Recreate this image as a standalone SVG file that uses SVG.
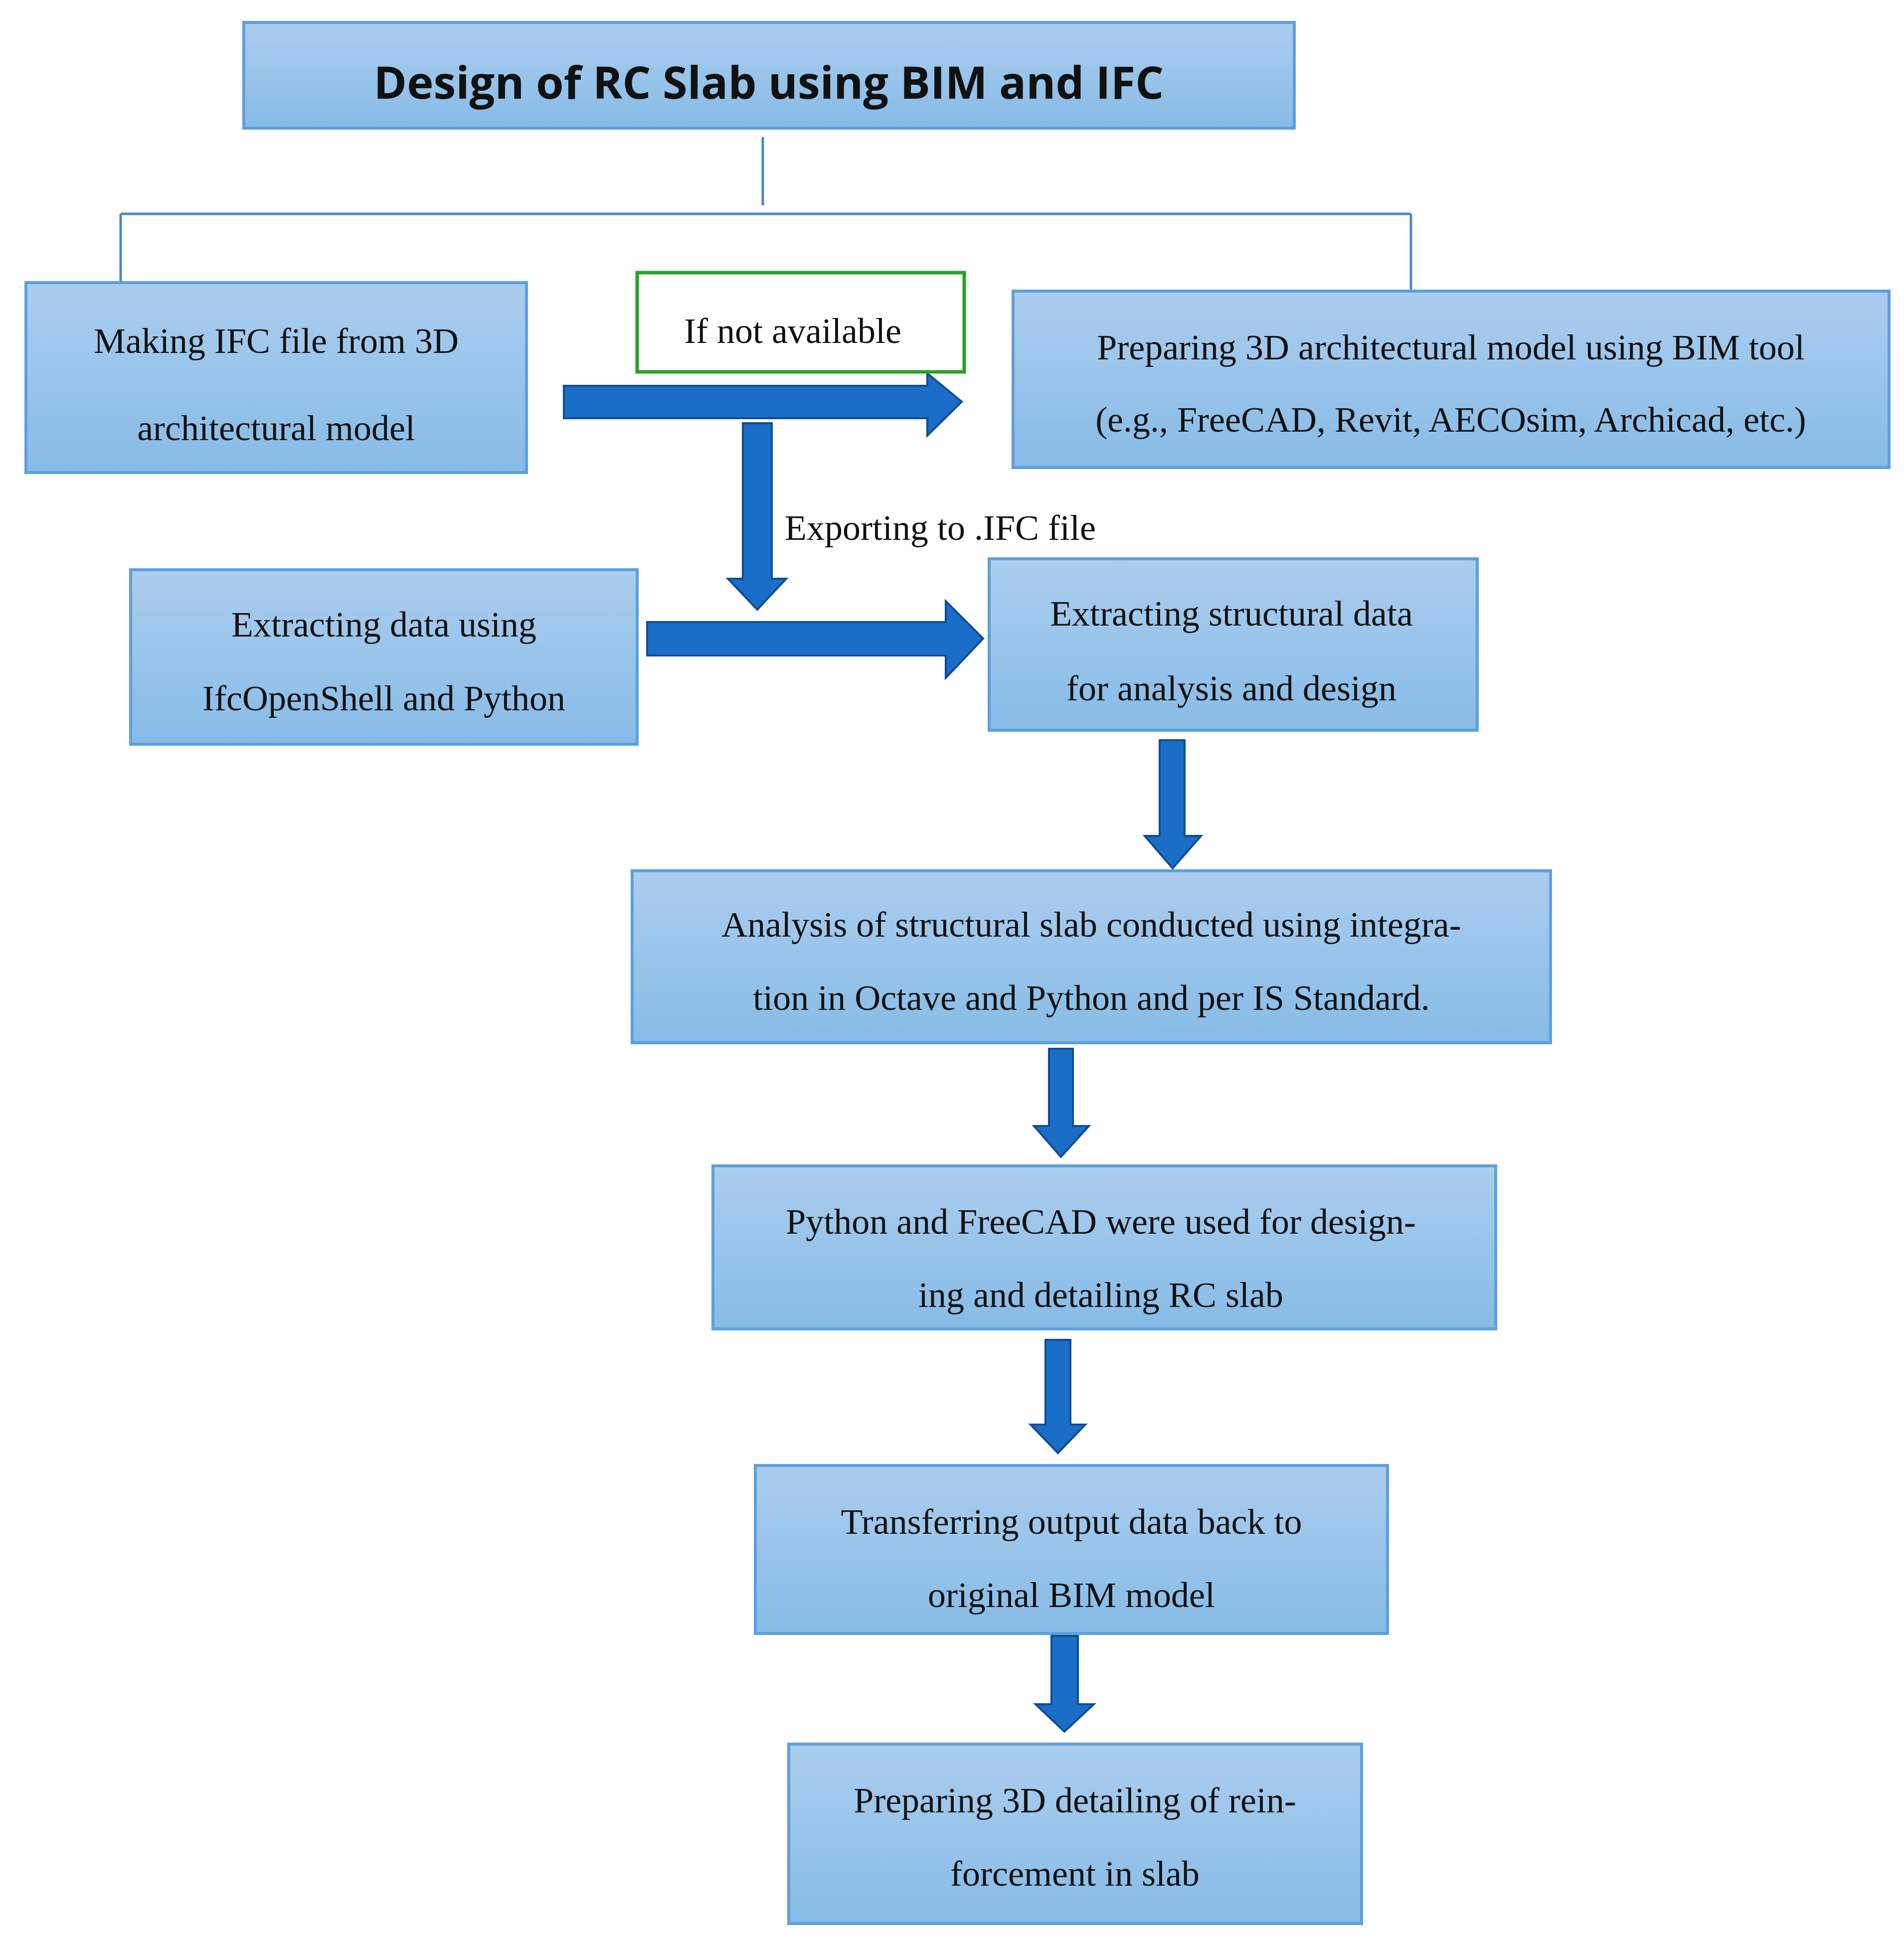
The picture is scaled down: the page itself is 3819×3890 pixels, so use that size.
<svg xmlns="http://www.w3.org/2000/svg" width="3819" height="3890" viewBox="0 0 3819 3890">
<defs>
<linearGradient id="g" x1="0" y1="0" x2="0" y2="1"><stop offset="0" stop-color="#abcdee"/><stop offset="1" stop-color="#86bbe6"/></linearGradient>
<style>
.box{fill:url(#g);stroke:#5da0dc;stroke-width:6}
.t{font-family:"Liberation Serif",serif;font-size:72px;fill:#111;text-anchor:middle}
.arr{fill:#1a6ec8;stroke:#0e4c96;stroke-width:4}
.ln{stroke:#4a86d0;stroke-width:5;fill:none}
</style>
</defs>
<rect width="3819" height="3890" fill="#fff"/>
<g id="title"><rect class="box" x="489" y="45" width="2107" height="212"/><text x="1542" y="198" font-family="'Open Sans','Liberation Sans',sans-serif" font-weight="bold" font-size="90" text-anchor="middle" fill="#111">Design of RC Slab using BIM and IFC</text></g>
<g id="connectors">
<path class="ln" d="M1530 275V412M242 429H2830M242 429V565M2830 429V582"/>
<path class="arr" d="M1131 774H1860V749L1929 806L1860 874V839H1131Z"/>
<path class="arr" d="M1490 849H1548V1161H1577L1519 1223L1460 1161H1490Z"/>
<path class="arr" d="M1298 1248H1897V1206L1972 1281L1897 1360V1315H1298Z"/>
<path class="arr" d="M2326 1485H2376V1677H2409L2352 1742L2296 1677H2326Z"/>
<path class="arr" d="M2104 2104H2152V2259H2184L2128 2321L2074 2259H2104Z"/>
<path class="arr" d="M2097 2688H2147V2858H2177L2122 2915L2067 2858H2097Z"/>
<path class="arr" d="M2109 3282H2162V3419H2194L2135 3474L2077 3419H2109Z"/>
</g>
<g id="A"><rect class="box" x="52" y="567" width="1004" height="381"/><text class="t" x="554" y="708">Making IFC file from 3D</text><text class="t" x="554" y="883">architectural model</text></g>
<g id="cond"><rect x="1278" y="547" width="656" height="199" fill="#fff" stroke="#2aa02a" stroke-width="7"/><text class="t" x="1590" y="688">If not available</text></g>
<g id="B"><rect class="box" x="2032" y="584" width="1757" height="354"/><text class="t" x="2910" y="721">Preparing 3D architectural model using BIM tool</text><text class="t" x="2910" y="866">(e.g., FreeCAD, Revit, AECOsim, Archicad, etc.)</text></g>
<g id="lbl"><text x="1574" y="1083" font-family="'Liberation Serif',serif" font-size="72" fill="#111">Exporting to .IFC file</text></g>
<g id="C"><rect class="box" x="262" y="1143" width="1016" height="350"/><text class="t" x="770" y="1277">Extracting data using</text><text class="t" x="770" y="1425">IfcOpenShell and Python</text></g>
<g id="D"><rect class="box" x="1984" y="1121" width="979" height="344"/><text class="t" x="2470" y="1255">Extracting structural data</text><text class="t" x="2470" y="1405">for analysis and design</text></g>
<g id="E"><rect class="box" x="1268" y="1747" width="1842" height="345"/><text class="t" x="2189" y="1879">Analysis of structural slab conducted using integra-</text><text class="t" x="2189" y="2026">tion in Octave and Python and per IS Standard.</text></g>
<g id="F"><rect class="box" x="1430" y="2339" width="1570" height="327"/><text class="t" x="2208" y="2475">Python and FreeCAD were used for design-</text><text class="t" x="2208" y="2622">ing and detailing RC slab</text></g>
<g id="G"><rect class="box" x="1515" y="2940" width="1268" height="337"/><text class="t" x="2149" y="3077">Transferring output data back to</text><text class="t" x="2149" y="3224">original BIM model</text></g>
<g id="H"><rect class="box" x="1582" y="3499" width="1149" height="360"/><text class="t" x="2156" y="3636">Preparing 3D detailing of rein-</text><text class="t" x="2156" y="3783">forcement in slab</text></g>
</svg>
